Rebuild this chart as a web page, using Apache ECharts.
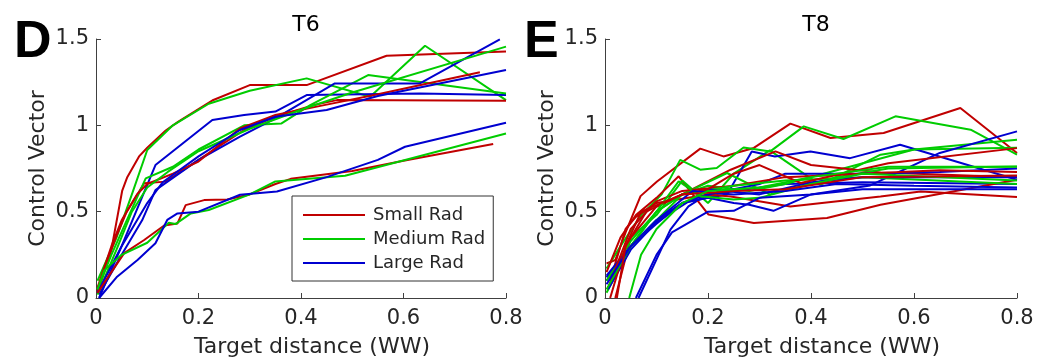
<!DOCTYPE html>
<html><head><meta charset="utf-8">
<script src="https://cdn.jsdelivr.net/npm/echarts@6/dist/echarts.min.js"></script>
<style>html,body{margin:0;padding:0;background:#fff}#c{width:1039px;height:363px}</style>
</head><body><div id="c"></div>
<script>
// ---- tick labels / categories ----
const xTicks = [0, 0.2, 0.4, 0.6, 0.8];
const yTicks = [0, 0.5, 1, 1.5];
const groups = ['Small Rad', 'Medium Rad', 'Large Rad'];
const panelTitles = ['T6', 'T8'];
const panelLetters = ['D', 'E'];

// ---- T6 : Small Rad ----
const t6Small1 = [[0.003,0.03],[0.03,0.28],[0.051,0.62],[0.061,0.70],[0.084,0.82],[0.1,0.87],[0.136,0.97],[0.16,1.02],[0.229,1.147],[0.3,1.233],[0.411,1.233],[0.567,1.403],[0.8,1.427]];
const t6Small2 = [[0.003,0.04],[0.02,0.2],[0.04,0.36],[0.06,0.5],[0.094,0.664],[0.136,0.674],[0.2,0.8],[0.289,0.973],[0.35,1.05],[0.424,1.117],[0.47,1.146],[0.8,1.142]];
const t6Small3 = [[0.003,0.06],[0.03,0.3],[0.05,0.45],[0.08,0.6],[0.1,0.66],[0.15,0.72],[0.2,0.79],[0.281,0.982],[0.35,1.06],[0.45,1.12],[0.55,1.18],[0.749,1.307]];
const t6Small4 = [[0.003,0.03],[0.03,0.15],[0.055,0.26],[0.094,0.336],[0.133,0.42],[0.159,0.432],[0.175,0.538],[0.211,0.567],[0.256,0.571],[0.3,0.6],[0.35,0.66],[0.38,0.69],[0.5,0.735],[0.6,0.795],[0.775,0.892]];
// ---- T6 : Medium Rad ----
const t6Med1 = [[0.003,0.1],[0.04,0.35],[0.07,0.6],[0.1,0.857],[0.15,1.0],[0.22,1.125],[0.3,1.2],[0.411,1.272],[0.535,1.166],[0.642,1.461],[0.8,1.146]];
const t6Med2 = [[0.003,0.05],[0.03,0.25],[0.06,0.45],[0.097,0.693],[0.15,0.76],[0.2,0.86],[0.289,1.0],[0.362,1.011],[0.418,1.117],[0.531,1.291],[0.8,1.185]];
const t6Med3 = [[0.003,0.02],[0.04,0.28],[0.07,0.5],[0.1,0.64],[0.14,0.73],[0.2,0.85],[0.3,0.98],[0.4,1.09],[0.5,1.19],[0.8,1.456]];
const t6Med4 = [[0.003,0.05],[0.016,0.16],[0.05,0.25],[0.1,0.32],[0.142,0.436],[0.155,0.428],[0.185,0.49],[0.22,0.51],[0.3,0.6],[0.35,0.675],[0.486,0.708],[0.8,0.953]];
// ---- T6 : Large Rad ----
const t6Large1 = [[0.006,0.0],[0.05,0.3],[0.116,0.77],[0.227,1.031],[0.289,1.06],[0.35,1.08],[0.411,1.175],[0.632,1.185],[0.8,1.175]];
const t6Large2 = [[0.006,0.02],[0.05,0.25],[0.09,0.45],[0.116,0.625],[0.2,0.8],[0.281,0.934],[0.35,1.04],[0.466,1.243],[0.632,1.243],[0.788,1.498]];
const t6Large3 = [[0.003,0.03],[0.05,0.3],[0.1,0.55],[0.13,0.67],[0.2,0.82],[0.281,0.973],[0.35,1.05],[0.45,1.089],[0.55,1.17],[0.8,1.32]];
const t6Large4 = [[0.006,0.0],[0.04,0.12],[0.081,0.22],[0.116,0.317],[0.139,0.452],[0.159,0.49],[0.2,0.5],[0.281,0.598],[0.353,0.617],[0.45,0.7],[0.55,0.8],[0.603,0.876],[0.8,1.015]];

// ---- T8 : Small Rad ----
const t8Small1 = [[0.003,0.2],[0.02,0.22],[0.04,0.38],[0.069,0.59],[0.101,0.675],[0.185,0.865],[0.23,0.82],[0.289,0.869],[0.36,1.01],[0.438,0.927],[0.541,0.956],[0.69,1.1],[0.8,0.84]];
const t8Small2 = [[0.003,0.15],[0.03,0.35],[0.06,0.48],[0.1,0.58],[0.143,0.705],[0.201,0.483],[0.289,0.434],[0.431,0.463],[0.535,0.54],[0.8,0.685]];
const t8Small3 = [[0.01,0.1],[0.04,0.4],[0.06,0.47],[0.1,0.55],[0.2,0.6],[0.244,0.588],[0.36,0.53],[0.535,0.588],[0.613,0.617],[0.8,0.585]];
const t8Small4 = [[0.02,0.0],[0.05,0.35],[0.1,0.53],[0.15,0.6],[0.244,0.743],[0.331,0.849],[0.4,0.77],[0.535,0.727],[0.8,0.70]];
const t8Small5 = [[0.005,0.05],[0.05,0.4],[0.1,0.56],[0.15,0.62],[0.25,0.65],[0.35,0.7],[0.5,0.72],[0.65,0.74],[0.8,0.73]];
const t8Small6 = [[0.01,0.0],[0.04,0.3],[0.08,0.5],[0.15,0.6],[0.2,0.63],[0.25,0.72],[0.3,0.77],[0.38,0.666],[0.55,0.78],[0.8,0.868]];
const t8Small7 = [[0.023,0.0],[0.04,0.3],[0.07,0.5],[0.15,0.6],[0.25,0.62],[0.35,0.63],[0.5,0.7],[0.8,0.71]];
// ---- T8 : Medium Rad ----
const t8Med1 = [[0.003,0.17],[0.03,0.3],[0.07,0.48],[0.11,0.6],[0.146,0.80],[0.185,0.743],[0.217,0.753],[0.269,0.872],[0.321,0.849],[0.386,0.994],[0.463,0.921],[0.564,1.052],[0.71,0.975],[0.8,0.83]];
const t8Med2 = [[0.005,0.05],[0.05,0.35],[0.1,0.48],[0.15,0.68],[0.2,0.55],[0.25,0.72],[0.32,0.855],[0.418,0.655],[0.535,0.83],[0.6,0.86],[0.8,0.87]];
const t8Med3 = [[0.01,0.1],[0.05,0.3],[0.1,0.5],[0.15,0.6],[0.2,0.65],[0.28,0.62],[0.35,0.66],[0.45,0.74],[0.6,0.86],[0.8,0.917]];
const t8Med4 = [[0.003,0.1],[0.05,0.33],[0.1,0.5],[0.15,0.6],[0.237,0.724],[0.32,0.6],[0.45,0.7],[0.55,0.75],[0.8,0.762]];
const t8Med5 = [[0.003,0.03],[0.05,0.3],[0.1,0.45],[0.15,0.6],[0.25,0.65],[0.35,0.68],[0.5,0.70],[0.8,0.66]];
const t8Med6 = [[0.003,0.05],[0.05,0.3],[0.1,0.5],[0.143,0.676],[0.185,0.589],[0.25,0.57],[0.3,0.58],[0.4,0.66],[0.5,0.72],[0.8,0.68]];
const t8Med7 = [[0.047,0.0],[0.07,0.25],[0.1,0.4],[0.15,0.55],[0.2,0.62],[0.3,0.64],[0.4,0.7],[0.55,0.76],[0.8,0.76]];
// ---- T8 : Large Rad ----
const t8Large1 = [[0.065,0.0],[0.127,0.396],[0.162,0.531],[0.192,0.589],[0.25,0.62],[0.35,0.66],[0.5,0.67],[0.8,0.66]];
const t8Large2 = [[0.003,0.12],[0.05,0.3],[0.1,0.45],[0.15,0.55],[0.2,0.58],[0.237,0.6],[0.285,0.849],[0.33,0.82],[0.399,0.849],[0.476,0.81],[0.573,0.888],[0.8,0.685]];
const t8Large3 = [[0.003,0.1],[0.05,0.3],[0.1,0.45],[0.15,0.55],[0.2,0.58],[0.25,0.55],[0.28,0.54],[0.327,0.505],[0.4,0.6],[0.515,0.652],[0.65,0.84],[0.8,0.965]];
const t8Large4 = [[0.003,0.13],[0.05,0.3],[0.1,0.43],[0.15,0.55],[0.2,0.6],[0.3,0.66],[0.35,0.72],[0.5,0.72],[0.65,0.73],[0.8,0.75]];
const t8Large5 = [[0.006,0.05],[0.05,0.28],[0.1,0.44],[0.2,0.63],[0.3,0.6],[0.4,0.67],[0.5,0.7],[0.8,0.7]];
const t8Large6 = [[0.003,0.08],[0.05,0.3],[0.1,0.45],[0.17,0.62],[0.25,0.6],[0.35,0.62],[0.45,0.66],[0.6,0.65],[0.8,0.64]];
const t8Large7 = [[0.06,0.0],[0.1,0.25],[0.13,0.38],[0.2,0.5],[0.25,0.505],[0.3,0.58],[0.4,0.6],[0.5,0.63],[0.8,0.63]];

const panels = [
  { small: [t6Small1, t6Small2, t6Small3, t6Small4], medium: [t6Med1, t6Med2, t6Med3, t6Med4], large: [t6Large1, t6Large2, t6Large3, t6Large4] },
  { small: [t8Small1, t8Small2, t8Small3, t8Small4, t8Small5, t8Small6, t8Small7], medium: [t8Med1, t8Med2, t8Med3, t8Med4, t8Med5, t8Med6, t8Med7], large: [t8Large1, t8Large2, t8Large3, t8Large4, t8Large5, t8Large6, t8Large7] }
];

const colors = { 'Small Rad': '#c00000', 'Medium Rad': '#00cc00', 'Large Rad': '#0000d0' };
const FONT = 'DejaVu Sans';
const AXIS_COLOR = '#404040';
const fmt = v => String(Math.round(v * 10) / 10);

const grids = [
  { left: 96, top: 39, width: 410, height: 259 },
  { left: 605, top: 39, width: 412, height: 259 }
];

const xAxes = grids.map((g, i) => ({
  type: 'value', gridIndex: i, min: xTicks[0], max: xTicks[xTicks.length - 1], interval: 0.2,
  name: 'Target distance (WW)', nameLocation: 'middle', nameGap: 38,
  nameTextStyle: { fontFamily: FONT, fontSize: 22, color: '#262626', padding: [0, 0, 0, 22] },
  axisLine: { show: true, onZero: false, lineStyle: { color: AXIS_COLOR, width: 1 } },
  axisTick: { show: true, inside: true, length: 5, lineStyle: { color: AXIS_COLOR } },
  axisLabel: { fontFamily: FONT, fontSize: 21, color: '#262626', margin: 10, formatter: fmt, showMinLabel: true, showMaxLabel: true },
  splitLine: { show: false }
}));
const yAxes = grids.map((g, i) => ({
  type: 'value', gridIndex: i, min: yTicks[0], max: yTicks[yTicks.length - 1], interval: 0.5,
  name: 'Control Vector', nameLocation: 'middle', nameGap: 47,
  nameTextStyle: { fontFamily: FONT, fontSize: 22, color: '#262626' },
  axisLine: { show: true, onZero: false, lineStyle: { color: AXIS_COLOR, width: 1 } },
  axisTick: { show: true, inside: true, length: 5, lineStyle: { color: AXIS_COLOR } },
  axisLabel: { fontFamily: FONT, fontSize: 21, color: '#262626', margin: 7, formatter: fmt },
  splitLine: { show: false }
}));

const series = [];
panels.forEach((p, i) => {
  const sets = [['Small Rad', p.small], ['Medium Rad', p.medium], ['Large Rad', p.large]];
  const n = Math.max(p.small.length, p.medium.length, p.large.length);
  for (let k = 0; k < n; k++) {
    sets.forEach(([name, arr]) => {
      if (!arr[k]) return;
      series.push({
        type: 'line', name, xAxisIndex: i, yAxisIndex: i, data: arr[k],
        symbol: 'none', clip: true, silent: true, animation: false,
        lineStyle: { color: colors[name], width: 2 }, itemStyle: { color: colors[name] }
      });
    });
  }
});

const titles = [];
panelTitles.forEach((t, i) => {
  titles.push({ text: t, left: grids[i].left + grids[i].width / 2, top: 9, textAlign: 'center',
    textStyle: { fontFamily: FONT, fontSize: 22, fontWeight: 'normal', color: '#000' } });
});
const letterX = [9, 519];
panelLetters.forEach((t, i) => {
  titles.push({ text: t, left: letterX[i], top: 12,
    textStyle: { fontFamily: 'Liberation Sans', fontSize: 52, fontWeight: 900, color: '#000' } });
});

const chart = echarts.init(document.getElementById('c'), null, { renderer: 'canvas' });
chart.setOption({
  animation: false,
  backgroundColor: '#fff',
  title: titles,
  grid: grids,
  xAxis: xAxes,
  yAxis: yAxes,
  legend: {
    data: groups.map(g => ({ name: g, icon: 'rect', itemStyle: { color: colors[g] } })),
    orient: 'vertical', left: 292, top: 196,
    padding: [8, 8, 7, 11], itemWidth: 62, itemHeight: 2, itemGap: 2,
    borderColor: '#333', borderWidth: 1, backgroundColor: '#fff',
    textStyle: { fontFamily: FONT, fontSize: 18, color: '#262626', lineHeight: 22, padding: [0, 0, 0, 3] },
    selectedMode: false
  },
  series
});
</script></body></html>
